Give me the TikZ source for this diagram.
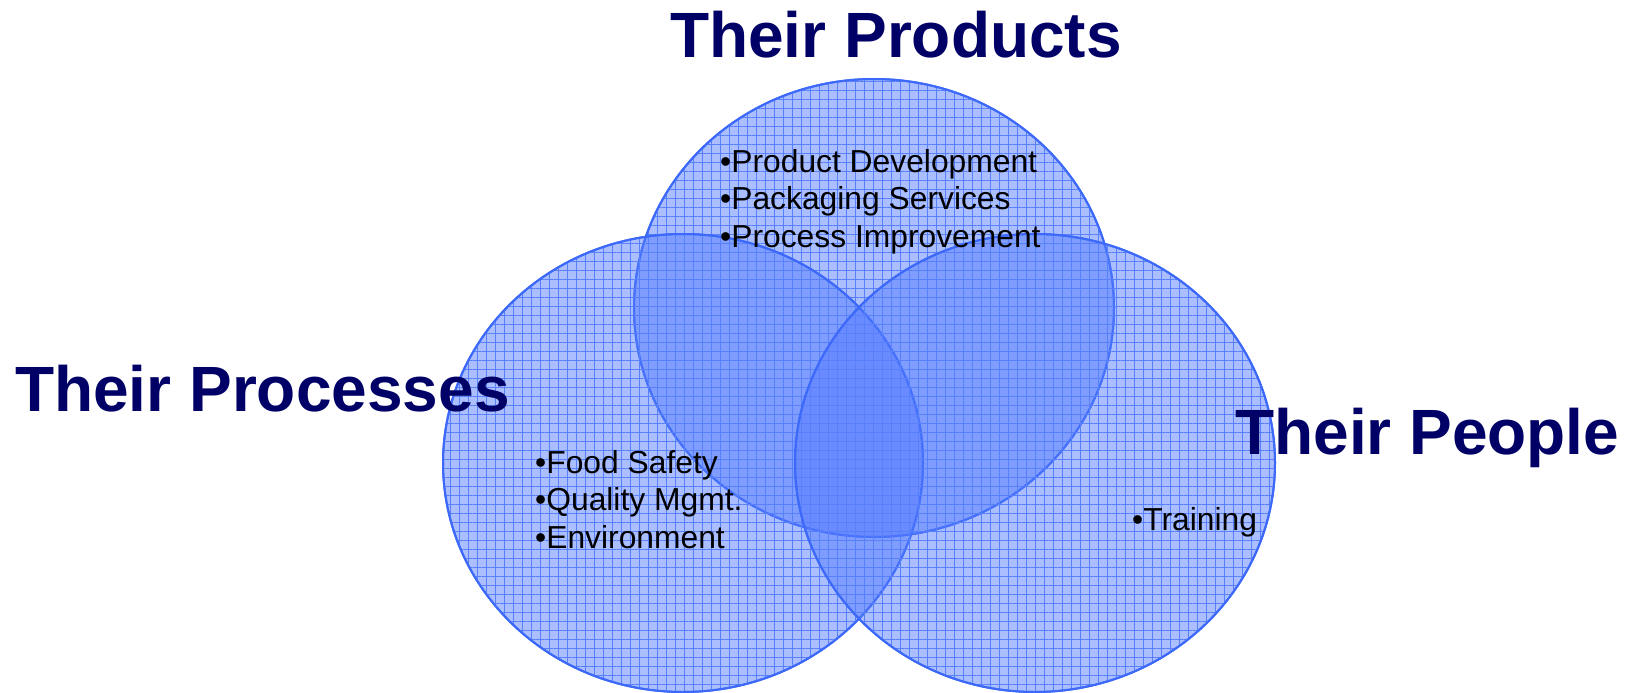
\documentclass[tikz,border=0pt]{standalone}
\usepackage{fontspec}
\setmainfont{Liberation Sans}
\usepackage{tikz}
\usetikzlibrary{shapes.geometric,patterns.meta}

\definecolor{setfill}{RGB}{80,120,255}
\definecolor{setline}{RGB}{60,105,250}
\definecolor{titlenavy}{RGB}{0,0,102}

\tikzset{
  setarea/.style={ellipse, draw=setline, line width=2pt, fill=setfill, fill opacity=0.48,
    minimum width=480pt, minimum height=458pt, inner sep=0pt,
    postaction={pattern={Lines[angle=0,distance=9pt,line width=0.55pt]}, pattern color=setline!85!white},
    postaction={pattern={Lines[angle=90,distance=9pt,line width=0.55pt]}, pattern color=setline!85!white},
    postaction={draw=setline, line width=2pt}},
  settitle/.style={text=titlenavy, font=\fontsize{64}{70}\selectfont\bfseries, inner sep=0pt},
  item/.style={anchor=base west, font=\fontsize{31.8}{37}\selectfont, inner sep=0pt}
}

\begin{document}
\begin{tikzpicture}[x=1pt,y=-1pt]
   \useasboundingbox (0,0) rectangle (1627,693);
   % the three sets
   \node[setarea] (products) at (874,308) {};
   \node[setarea] (processes) at (683,463) {};
   \node[setarea] (people) at (1035,463) {};
   % titles
   \node[settitle, anchor=base] (productsT) at (896,57) {Their Products};
   \node[settitle, anchor=base west] (processesT) at (15,411) {Their Processes};
   \node[settitle, anchor=base west] (peopleT) at (1235,454) {Their People};
   % bullet lists
   \foreach \txt [count=\i] in {Product Development, Packaging Services, Process Improvement}
     \node[item] (prod\i) at (720,134.5+37.5*\i) {\textbullet\txt};
   \foreach \txt [count=\i] in {Food Safety, Quality Mgmt., Environment}
     \node[item] (proc\i) at (535,435.5+37.5*\i) {\textbullet\txt};
   \node[item] (peop1) at (1132,530) {\textbullet Training};
\end{tikzpicture}
\end{document}
